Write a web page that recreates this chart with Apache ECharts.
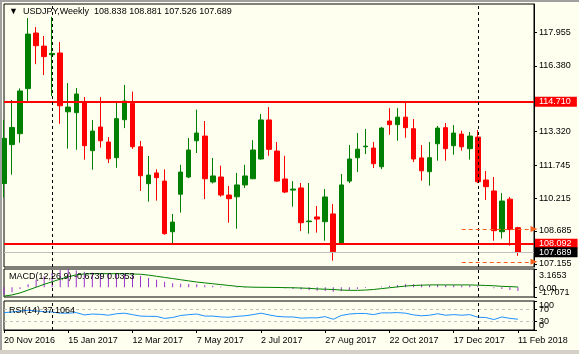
<!DOCTYPE html>
<html>
<head>
<meta charset="utf-8">
<script src="https://cdn.jsdelivr.net/npm/echarts@6/dist/echarts.min.js"></script>
<style>
  html, body { margin: 0; padding: 0; background: #fffff0; }
  #wrap { position: relative; width: 579px; height: 354px; overflow: hidden; }
  #chart { width: 579px; height: 354px; }
  .edge { position: absolute; background: #a0a0a0; pointer-events: none; }
</style>
</head>
<body>
<div id="wrap">
  <div id="chart"></div>
  <div class="edge" style="left:0;top:0;width:2px;height:354px"></div>
  <div class="edge" style="left:0;top:0;width:579px;height:2px"></div>
  <div class="edge" style="left:0;top:350px;width:579px;height:4px;background:#d4d0c8"></div>
</div>
<script>
const FONT = '"Liberation Sans", Arial, sans-serif';
const MONTHS = ['Jan', 'Feb', 'Mar', 'Apr', 'May', 'Jun', 'Jul', 'Aug', 'Sep', 'Oct', 'Nov', 'Dec'];

// weekly bars, [open, high, low, close]
const weekOHLC = [
  [110.90, 113.86, 110.25, 113.00], [112.71, 114.79, 111.31, 113.51], [113.22, 115.33, 112.80, 115.21],
  [115.32, 118.61, 114.68, 117.86], [117.91, 118.19, 116.46, 117.32], [117.30, 117.77, 115.95, 116.81],
  [116.90, 118.66, 114.97, 116.96], [116.98, 117.49, 113.68, 114.52], [114.24, 115.58, 112.52, 114.46],
  [114.20, 115.35, 112.47, 115.07], [114.69, 114.93, 112.01, 112.66], [112.43, 113.86, 111.54, 113.34],
  [113.53, 114.93, 112.57, 112.89], [112.83, 113.06, 111.85, 112.05], [112.10, 114.74, 111.63, 113.92],
  [113.87, 115.49, 113.48, 114.74], [114.64, 115.18, 112.51, 112.61], [112.61, 112.88, 110.55, 111.26],
  [110.89, 112.18, 110.05, 111.29], [111.39, 111.56, 110.10, 111.17], [111.01, 111.56, 108.51, 108.56],
  [108.65, 109.48, 108.11, 109.10], [110.40, 111.77, 109.54, 111.43], [111.20, 113.02, 111.15, 112.46],
  [112.89, 114.34, 112.32, 113.25], [113.11, 113.81, 110.17, 111.12], [110.97, 112.09, 110.90, 111.25],
  [111.20, 111.73, 110.28, 110.36], [110.36, 110.78, 109.07, 110.19], [110.28, 111.39, 108.79, 110.83],
  [110.83, 111.77, 110.69, 111.25], [111.12, 112.92, 111.10, 112.46], [112.04, 114.14, 112.01, 113.86],
  [113.86, 114.46, 112.19, 112.49], [112.41, 112.83, 110.98, 111.01], [111.11, 112.19, 110.45, 110.50],
  [110.59, 111.01, 109.82, 110.64], [110.69, 110.92, 108.68, 109.07], [109.12, 110.92, 108.56, 109.15],
  [109.34, 109.85, 108.61, 109.24], [109.12, 110.64, 108.23, 110.27], [109.48, 109.94, 107.30, 107.72],
  [108.12, 111.34, 108.10, 110.83], [111.01, 112.69, 110.92, 112.04], [112.10, 113.25, 111.43, 112.50],
  [112.61, 113.44, 112.27, 112.64], [112.55, 112.83, 111.62, 111.82], [111.68, 113.53, 111.57, 113.48],
  [113.81, 114.41, 113.17, 113.64], [113.64, 114.41, 112.89, 113.99], [113.99, 114.65, 113.03, 113.50],
  [113.45, 113.90, 111.90, 112.04], [112.09, 112.69, 111.03, 111.49], [111.45, 112.83, 110.80, 112.10],
  [112.75, 113.58, 111.96, 113.48], [113.50, 113.72, 111.96, 112.52], [112.66, 113.62, 112.24, 113.25],
  [113.20, 113.36, 112.43, 112.61], [112.52, 113.30, 112.01, 113.11], [113.06, 113.39, 110.92, 110.98],
  [111.06, 111.48, 110.13, 110.75], [110.55, 111.20, 108.23, 108.70], [108.65, 110.45, 108.34, 110.08],
  [110.17, 110.27, 108.00, 108.75], [108.838, 108.881, 107.526, 107.689]
];

// MACD main (histogram) and signal
const macdMain = [
  -1.3, -0.9, -0.3, 0.5, 1.3, 1.9, 2.5, 3.0, 3.1653, 2.9, 2.7, 2.5, 2.4, 2.3, 2.25, 2.3,
  2.2, 2.0, 1.6, 1.3, 0.95, 0.7, 0.6, 0.55, 0.5, 0.35, 0.25, 0.1, -0.05, -0.1,
  -0.1, -0.05, 0.05, 0.0, -0.1, -0.2, -0.3, -0.4, -0.55, -0.6, -0.65, -0.8, -0.7, -0.5, -0.3, -0.15,
  0.0, 0.1, 0.25, 0.4, 0.5, 0.5, 0.45, 0.4, 0.45, 0.4, 0.4, 0.35, 0.35, 0.2, 0.05, -0.2, -0.3,
  -0.5, -0.6739
];
const macdSignal = [
  -1.55, -1.35, -1.0, -0.5, 0.0, 0.5, 0.95, 1.4, 1.8, 2.15, 2.3, 2.35, 2.35, 2.35, 2.35, 2.35,
  2.3, 2.25, 2.1, 1.9, 1.7, 1.5, 1.3, 1.1, 0.9, 0.75, 0.6, 0.45, 0.3, 0.15,
  0.05, 0.0, -0.02, -0.03, -0.05, -0.08, -0.1, -0.15, -0.2, -0.3, -0.35, -0.4, -0.5, -0.55, -0.55, -0.5,
  -0.4, -0.25, -0.1, 0.05, 0.2, 0.3, 0.35, 0.4, 0.4, 0.4, 0.4, 0.4, 0.4, 0.35, 0.3, 0.25, 0.15,
  0.1, 0.0353
];
const rsi = [
  60, 62, 65, 68, 66, 63, 62, 58, 58, 60, 52, 55, 54, 51, 56, 58,
  53, 48, 47, 47, 40, 43, 50, 53, 55, 48, 48, 45, 44, 47,
  49, 53, 58, 52, 47, 45, 45, 41, 42, 42, 46, 37, 50, 55, 57, 57,
  53, 59, 59, 60, 58, 52, 49, 51, 56, 51, 53, 51, 53, 44, 43, 36, 45,
  40, 37.1064
];

const priceTicks = [107.155, 108.685, 110.215, 111.745, 113.320, 116.380, 117.955];
const levels = [
  { value: 114.710, color: '#ff0000', width: 2, box: '#ff0000' },
  { value: 108.092, color: '#ff0000', width: 2, box: '#ff0000' },
  { value: 107.689, color: '#c0c0c0', width: 1, box: '#000000' }
];
const rangeArrows = [108.78, 107.25];
const yearStarts = [6, 59];
const macdEdgeTicks = [3.1653, -1.7071];
const macdMidTicks = [0];
const rsiEdgeTicks = [100, 0];
const rsiMidTicks = [70, 30];
const rsiLevels = [70, 30];

// weekly categories starting 20 Nov 2016, plus two empty slots of right margin
const weekDates = weekOHLC.map((_, i) => {
  const d = new Date(Date.UTC(2016, 10, 20) + i * 7 * 864e5);
  return d.getUTCDate() + ' ' + MONTHS[d.getUTCMonth()] + ' ' + d.getUTCFullYear();
});
const axisSlots = weekDates.concat(['', ' ']);

const last = weekOHLC[weekOHLC.length - 1];
const lastIdx = weekOHLC.length - 1;

const dashedYears = yearStarts.map((k) => ({ xAxis: k }));
const vLineStyle = { color: '#000', type: [3, 3], width: 1 };
const labelFont = { fontFamily: FONT, fontSize: 9, color: '#000' };
const plainTitle = { fontFamily: FONT, fontSize: 9, fontWeight: 'normal', color: '#000' };

// a right-hand value axis; indicator panels use two of them so overlapping labels all stay
function sideAxis(grid, min, max, ticks, fmt, rich, showLine) {
  return {
    type: 'value', gridIndex: grid, position: 'right', offset: 0,
    min, max,
    axisLine: { show: showLine, lineStyle: { color: '#000' } },
    axisTick: { show: true, length: 3, customValues: ticks, lineStyle: { color: '#000' } },
    axisLabel: { customValues: ticks, margin: 5, ...labelFont, showMinLabel: true, showMaxLabel: true, formatter: fmt, rich },
    splitLine: { show: false }
  };
}

const chart = echarts.init(document.getElementById('chart'), null, { renderer: 'canvas' });

chart.setOption({
  animation: false,
  backgroundColor: '#fffff0',
  textStyle: { fontFamily: FONT },
  title: [
    {
      text: '{tri|▼}  USDJPY,Weekly  ' + last.map((v) => v.toFixed(3)).join(' '),
      left: 9, top: 7, padding: 0,
      textStyle: { ...plainTitle, rich: { tri: { fontSize: 9, color: '#000' } } }
    },
    {
      text: 'MACD(12,26,9) ' + macdMain[lastIdx].toFixed(4) + ' ' + macdSignal[lastIdx].toFixed(4),
      left: 9, top: 272, padding: 0, textStyle: plainTitle
    },
    {
      text: 'RSI(14) ' + rsi[lastIdx].toFixed(4),
      left: 9, top: 306, padding: 0, textStyle: plainTitle
    }
  ],
  grid: [
    { left: 4, top: 4, width: 530, height: 263, show: true, borderColor: '#000', borderWidth: 1, backgroundColor: 'transparent' },
    { left: 4, top: 269, width: 530, height: 28, show: true, borderColor: '#000', borderWidth: 1, backgroundColor: 'transparent' },
    { left: 4, top: 301, width: 530, height: 29, show: true, borderColor: '#000', borderWidth: 1, backgroundColor: 'transparent' }
  ],
  xAxis: [0, 1, 2].map((g) => ({
    type: 'category',
    gridIndex: g,
    data: axisSlots,
    boundaryGap: false,
    axisLine: { show: g === 2, lineStyle: { color: '#000' } },
    axisTick: { show: g === 2, interval: 7, length: 3, lineStyle: { color: '#000' } },
    axisLabel: { show: g === 2, interval: 7, align: 'left', margin: 6, ...labelFont },
    splitLine: { show: false }
  })),
  yAxis: [
    sideAxis(0, 107.007, 119.263, priceTicks, (v) => v.toFixed(3), undefined, true),
    sideAxis(1, -1.7071, 3.1653, macdEdgeTicks,
      (v) => (v > 0 ? '{t|' + v.toFixed(4) + '}' : '{b|' + v.toFixed(4) + '}'),
      { t: { padding: [14, 0, 0, 0] }, b: { padding: [0, 0, 9, 0] } }, true),
    sideAxis(1, -1.7071, 3.1653, macdMidTicks, () => '{m|0.00}', { m: { padding: [2, 0, 0, 0] } }, false),
    sideAxis(2, 0, 100, rsiEdgeTicks,
      (v) => (v > 0 ? '{t|' + v + '}' : '{b|' + v + '}'),
      { t: { padding: [9, 0, 0, 0] }, b: { padding: [0, 0, 8, 0] } }, true),
    sideAxis(2, 0, 100, rsiMidTicks, (v) => String(v), undefined, false)
  ],
  series: [
    {
      type: 'candlestick',
      xAxisIndex: 0, yAxisIndex: 0,
      barWidth: 5,
      data: weekOHLC.map(([o, h, l, c]) => [o, c, l, h]),
      itemStyle: { color: '#008000', color0: '#ff0000', borderColor: '#008000', borderColor0: '#ff0000', borderWidth: 1 },
      markLine: {
        silent: true, symbol: 'none', animation: false,
        data: [
          ...levels.map((lv) => ({
            yAxis: lv.value,
            lineStyle: { color: lv.color, width: lv.width, type: 'solid' },
            label: {
              show: true, position: 'end', distance: 1, formatter: lv.value.toFixed(3),
              backgroundColor: lv.box, color: '#fff', fontFamily: FONT, fontSize: 9,
              lineHeight: 10, padding: [0, 6, 0, 4]
            }
          })),
          ...dashedYears.map((d) => ({ ...d, lineStyle: vLineStyle, label: { show: false } })),
          ...rangeArrows.map((p) => [
            { coord: [56.7, p], symbol: 'none', lineStyle: { color: '#f5601e', type: [4, 3], width: 1 }, label: { show: false } },
            { coord: [65.5, p], symbol: 'triangle', symbolSize: [6, 7] }
          ])
        ]
      }
    },
    {
      type: 'bar',
      xAxisIndex: 1, yAxisIndex: 1,
      barWidth: 1,
      data: macdMain,
      itemStyle: { color: '#9932cc' },
      markLine: { silent: true, symbol: 'none', label: { show: false }, lineStyle: vLineStyle, data: dashedYears }
    },
    {
      type: 'line',
      xAxisIndex: 1, yAxisIndex: 1,
      data: macdSignal,
      showSymbol: false,
      lineStyle: { color: '#008000', width: 1 }
    },
    {
      type: 'line',
      xAxisIndex: 2, yAxisIndex: 3,
      data: rsi,
      showSymbol: false,
      lineStyle: { color: '#1e90ff', width: 1 },
      markLine: {
        silent: true, symbol: 'none', label: { show: false },
        data: [
          ...rsiLevels.map((v) => ({ yAxis: v, lineStyle: { color: '#c0c0c0', type: [3, 3], width: 1 } })),
          ...dashedYears.map((d) => ({ ...d, lineStyle: vLineStyle }))
        ]
      }
    }
  ]
});
</script>
</body>
</html>
